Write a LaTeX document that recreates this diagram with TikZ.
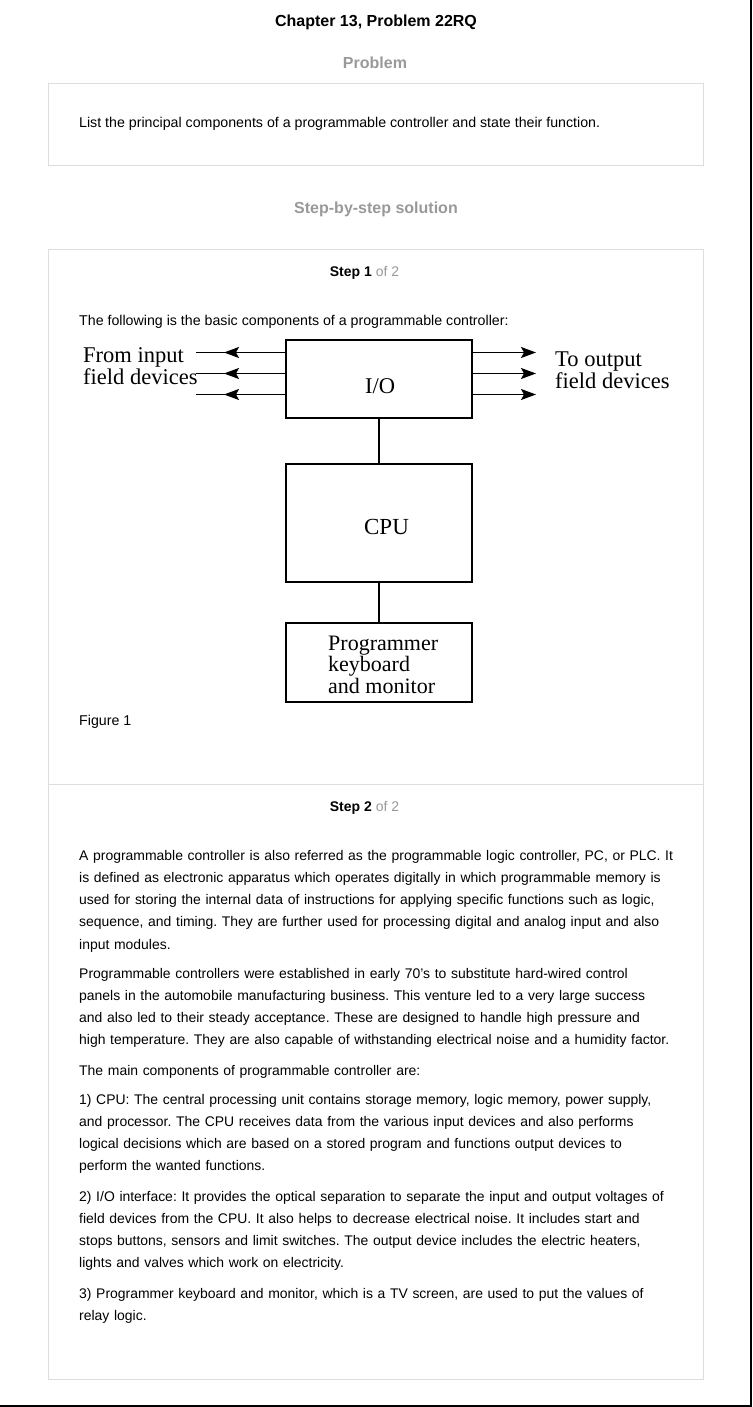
\documentclass[tikz,border=0pt]{standalone}
\usepackage{graphicx}
\usepackage{fontspec}
\setmainfont{Liberation Sans}
\newfontfamily\figfont{Liberation Serif}
\usetikzlibrary{arrows.meta}
\definecolor{boxgray}{HTML}{DDDDDD}
\definecolor{headgray}{HTML}{999999}
\frenchspacing
\begin{document}
\frenchspacing
\begin{tikzpicture}[x=1pt,y=-1pt,
  panel/.style={draw=boxgray, line width=1pt},
  txt/.style={inner sep=0pt, anchor=base west, font=\frenchspacing\fontsize{14.2}{22.3}\selectfont},
  para/.style={txt, text width=660pt, align=left, font=\frenchspacing\fontsize{13.95}{22.3}\selectfont},
  head/.style={inner sep=0pt, anchor=base, font=\bfseries\fontsize{16}{19}\selectfont, text=headgray},
  steplbl/.style={inner sep=0pt, anchor=base, font=\fontsize{14}{17}\selectfont},
  blk/.style={draw, line width=1.5pt, minimum width=186pt, inner sep=0pt},
  figlbl/.style={inner sep=0pt, anchor=base west, font=\figfont\fontsize{22.5}{19}\selectfont, align=left},
  arr/.style={-{Stealth[length=15pt,width=11pt,inset=3pt]}, line width=1.6pt},
  ln/.style={line width=1.6pt}]
\path[use as bounding box] (0,0) rectangle (752,1407);
% frame lines at right and bottom
\draw[line width=2pt] (751,0) -- (751,1406) -- (0,1406);

% headings
\node[head, text=black] (title) at (376,26.5) {Chapter 13, Problem 22RQ};
\node[head] (probhead) at (375,69) {Problem};
\draw[panel] (48,84) rectangle (703,166);
\node[txt] (probtxt) at (79,128) {List the principal components of a programmable controller and state their function.};
\node[head] (solhead) at (376,213) {Step-by-step solution};

% solution panel
\draw[panel] (48,249) rectangle (703,1379);
\draw[panel] (48,784) -- (703,784);

% step 1
\node[steplbl] (step1) at (364.5,276) {\textbf{Step 1} \textcolor{headgray}{of 2}};
\node[txt] (intro) at (79,325) {The following is the basic components of a programmable controller:};

% figure
\node[blk, minimum height=78pt] (io) at (379,379) {};
\node[blk, minimum height=118pt] (cpu) at (379,523) {};
\node[blk, minimum height=79pt] (prog) at (379,662.5) {};
\node[figlbl, anchor=base] (iotxt) at (380,393) {I/O};
\node[figlbl, anchor=base, font=\figfont\fontsize{23}{19}\selectfont] (cputxt) at (386.5,534) {CPU};
\node[figlbl, font=\figfont\fontsize{22}{19}\selectfont] (progtxt) at (328,693) {Programmer\\keyboard\\and monitor};
\draw[ln] (io.south) -- (cpu.north);
\draw[ln] (cpu.south) -- (prog.north);

\coordinate (inA) at (196,352.5);
\coordinate (inB) at (196,373.5);
\coordinate (inC) at (196,394.5);
\coordinate (tipA) at (224,352.5);
\coordinate (tipB) at (224,373.5);
\coordinate (tipC) at (224,394.5);
\coordinate (outA) at (536,352.5);
\coordinate (outB) at (536,373.5);
\coordinate (outC) at (536,394.5);
\foreach \k in {A,B,C}{
  \draw[ln] (io.west |- in\k) -- (in\k);
  \draw[arr] (io.west |- in\k) -- (tip\k);
  \draw[arr] (io.east |- out\k) -- (out\k);
}
\node[figlbl] (fromtxt) at (83,384.5) {From input\\field devices};
\node[figlbl] (totxt) at (555,388.5) {To output\\field devices};

\node[txt] (fig1) at (79,725) {Figure 1};

% step 2
\node[steplbl] (step2) at (364.5,811) {\textbf{Step 2} \textcolor{headgray}{of 2}};
\node[para] (p1) at (79,860) {A programmable controller is also referred as the programmable logic controller, PC, or PLC. It\\
is defined as electronic apparatus which operates digitally in which programmable memory is\\
used for storing the internal data of instructions for applying specific functions such as logic,\\
sequence, and timing. They are further used for processing digital and analog input and also\\
input modules.};
\node[para] (p2) at (79,978) {Programmable controllers were established in early 70’s to substitute hard-wired control\\
panels in the automobile manufacturing business. This venture led to a very large success\\
and also led to their steady acceptance. These are designed to handle high pressure and\\
high temperature. They are also capable of withstanding electrical noise and a humidity factor.};
\node[para] (p3) at (79,1075) {The main components of programmable controller are:};
\node[para] (p4) at (79,1104) {1) CPU: The central processing unit contains storage memory, logic memory, power supply,\\
and processor. The CPU receives data from the various input devices and also performs\\
logical decisions which are based on a stored program and functions output devices to\\
perform the wanted functions.};
\node[para] (p5) at (79,1201) {2) I/O interface: It provides the optical separation to separate the input and output voltages of\\
field devices from the CPU. It also helps to decrease electrical noise. It includes start and\\
stops buttons, sensors and limit switches. The output device includes the electric heaters,\\
lights and valves which work on electricity.};
\node[para] (p6) at (79,1298) {3) Programmer keyboard and monitor, which is a TV screen, are used to put the values of\\
relay logic.};
\end{tikzpicture}
\end{document}
